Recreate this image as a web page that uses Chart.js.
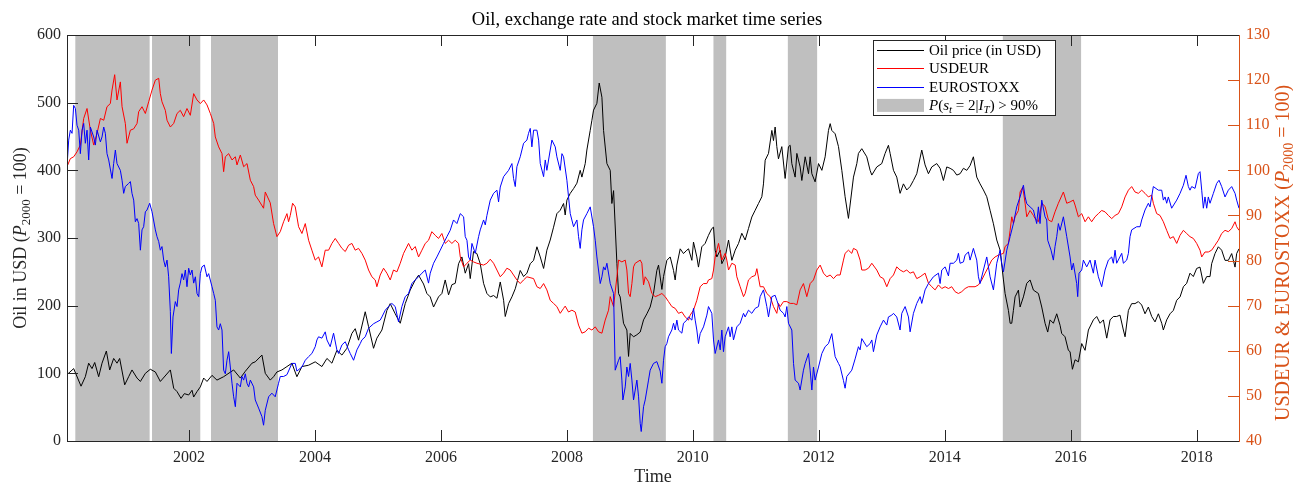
<!DOCTYPE html>
<html>
<head>
<meta charset="utf-8">
<script src="https://cdn.jsdelivr.net/npm/chart.js@4.4.1/dist/chart.umd.min.js"></script>
<style>
  html, body { margin: 0; padding: 0; background: #fff; }
</style>
</head>
<body>
<canvas id="chart" width="1293" height="484"></canvas>
<script>
// [decimal year, value]
const oilPoints = [
  [2000.063,98],[2000.169,107],[2000.286,81],[2000.354,95],[2000.407,115],[2000.46,107],[2000.503,116],[2000.566,95],[2000.619,115],[2000.688,133],[2000.741,105],[2000.804,122],[2000.857,115],[2000.899,122],[2000.979,83],[2001.042,95],[2001.095,105],[2001.175,93],[2001.228,88],[2001.307,100],[2001.386,106],[2001.466,102],[2001.545,88],[2001.704,105],[2001.757,78],[2001.81,73],[2001.873,63],[2001.926,70],[2001.995,68],[2002.048,75],[2002.074,65],[2002.127,73],[2002.18,80],[2002.233,93],[2002.286,88],[2002.365,97],[2002.444,90],[2002.55,95],[2002.709,105],[2002.815,93],[2002.894,103],[2003.0,115],
  [2003.052,117],[2003.158,127],[2003.211,100],[2003.29,90],[2003.343,95],[2003.396,102],[2003.475,105],[2003.555,110],[2003.634,115],[2003.713,95],[2003.793,110],[2003.899,112],[2004.004,117],[2004.11,110],[2004.19,122],[2004.269,115],[2004.348,134],[2004.428,127],[2004.507,137],[2004.586,159],[2004.639,166],[2004.692,149],[2004.798,191],[2004.851,169],[2004.93,137],[2004.983,152],[2005.063,164],[2005.142,193],[2005.195,203],[2005.274,188],[2005.354,174],[2005.433,203],[2005.512,223],[2005.592,238],[2005.645,245],[2005.724,232],[2005.777,218],[2005.83,213],[2005.883,198],[2005.962,213],[2006.015,218],[2006.068,238],[2006.121,216],[2006.174,231],[2006.227,233],
  [2006.28,262],[2006.333,272],[2006.386,248],[2006.439,262],[2006.465,240],[2006.518,280],[2006.571,277],[2006.624,262],[2006.677,233],[2006.73,218],[2006.783,213],[2006.836,215],[2006.889,211],[2006.942,235],[2006.995,208],[2007.021,184],[2007.074,203],[2007.127,213],[2007.18,225],[2007.259,252],[2007.312,243],[2007.365,248],[2007.418,262],[2007.471,267],[2007.524,287],[2007.577,272],[2007.63,255],[2007.682,282],[2007.735,297],[2007.788,316],[2007.841,336],[2007.894,341],[2007.947,351],[2007.973,334],[2008.0,356],[2008.053,366],[2008.106,373],[2008.159,381],[2008.211,400],[2008.238,390],[2008.291,410],[2008.317,430],[2008.37,459],[2008.397,474],[2008.423,489],[2008.476,499],[2008.513,529],[2008.556,508],[2008.582,459],[2008.635,410],[2008.688,400],[2008.714,351],[2008.741,370],[2008.794,262],[2008.82,218],[2008.846,213],[2008.899,174],[2008.952,164],[2008.979,125],[2009.005,159],[2009.058,154],[2009.111,157],[2009.164,161],[2009.217,179],[2009.27,188],
  [2009.322,198],[2009.375,218],[2009.428,252],[2009.455,260],[2009.508,224],[2009.534,243],[2009.587,267],[2009.64,272],[2009.693,252],[2009.719,238],[2009.746,260],[2009.799,284],[2009.851,277],[2009.904,282],[2009.931,284],[2009.984,267],[2010.01,294],[2010.063,272],[2010.089,257],[2010.142,287],[2010.195,292],[2010.248,304],[2010.301,314],[2010.328,316],[2010.354,282],[2010.381,272],[2010.434,282],[2010.46,262],[2010.513,272],[2010.566,297],[2010.619,267],[2010.672,282],[2010.725,292],[2010.777,307],[2010.83,297],[2010.883,314],[2010.936,331],[2010.989,341],[2011.042,351],[2011.095,361],[2011.121,380],[2011.148,415],[2011.201,425],[2011.254,459],[2011.28,444],[2011.306,464],[2011.333,435],[2011.359,417],[2011.412,435],[2011.465,388],[2011.518,435],[2011.545,437],[2011.571,410],[2011.624,390],[2011.651,425],[2011.703,405],[2011.73,385],[2011.783,420],[2011.836,395],[2011.862,420],[2011.889,395],[2011.941,383],[2011.995,410],[2012.048,400],[2012.1,420],[2012.153,459],[2012.18,469],[2012.206,459],[2012.259,454],[2012.312,435],[2012.365,400],
  [2012.417,361],[2012.47,329],[2012.55,390],[2012.603,410],[2012.629,425],[2012.682,432],[2012.761,420],[2012.814,400],[2012.841,393],[2012.92,405],[2012.999,410],[2013.052,425],[2013.105,437],[2013.132,425],[2013.185,400],[2013.237,390],[2013.29,366],[2013.343,380],[2013.396,371],[2013.449,376],[2013.502,385],[2013.555,395],[2013.634,430],[2013.687,408],[2013.74,395],[2013.793,405],[2013.872,410],[2013.925,403],[2013.978,385],[2014.031,405],[2014.084,403],[2014.137,400],[2014.19,393],[2014.243,395],[2014.296,403],[2014.349,400],[2014.401,407],[2014.454,420],[2014.507,390],[2014.56,380],[2014.613,371],[2014.666,361],[2014.719,341],[2014.772,321],[2014.825,297],[2014.878,282],[2014.931,238],[2014.957,218],[2015.01,193],[2015.037,174],[2015.063,174],[2015.089,193],[2015.116,213],[2015.169,223],[2015.195,198],[2015.248,213],[2015.301,233],[2015.354,238],[2015.407,223],
  [2015.486,218],[2015.539,198],[2015.592,174],[2015.634,161],[2015.671,179],[2015.724,174],[2015.777,188],[2015.83,171],[2015.856,159],[2015.909,154],[2015.962,134],[2015.989,132],[2016.026,106],[2016.068,120],[2016.121,117],[2016.174,144],[2016.227,134],[2016.28,164],[2016.359,179],[2016.412,184],[2016.465,174],[2016.518,179],[2016.571,152],[2016.624,179],[2016.676,184],[2016.729,184],[2016.782,186],[2016.835,164],[2016.862,154],[2016.915,193],[2016.967,203],[2017.02,203],[2017.073,206],[2017.126,201],[2017.179,188],[2017.232,198],[2017.285,184],[2017.338,176],[2017.391,188],[2017.444,174],[2017.47,164],[2017.523,179],[2017.576,188],[2017.629,193],[2017.682,208],[2017.735,213],[2017.788,228],[2017.84,233],[2017.893,248],[2017.946,243],[2017.999,255],[2018.052,257],[2018.105,233],[2018.158,243],[2018.211,243],[2018.237,262],[2018.29,277],[2018.343,287],[2018.396,282],[2018.449,267],[2018.502,267],[2018.555,277],[2018.608,257],[2018.634,277],[2018.671,284]
];

const usdeurPoints = [
  [2000.063,100.8],[2000.116,102.6],[2000.169,103],[2000.222,104.1],[2000.275,105.6],[2000.328,111.5],[2000.381,113.7],[2000.434,108.9],[2000.487,105.6],[2000.54,108.2],[2000.593,111.5],[2000.646,111.1],[2000.698,114.1],[2000.751,114.8],[2000.778,117.8],[2000.82,121.2],[2000.857,115.6],[2000.91,119.6],[2000.937,114.1],[2000.989,110.4],[2001.016,106],[2001.069,108.9],[2001.122,109.2],[2001.175,110.4],[2001.201,113],[2001.254,114.1],[2001.307,112.6],[2001.36,115.2],[2001.413,117.8],[2001.466,120],[2001.519,120.4],[2001.545,117],[2001.571,115.2],[2001.624,113.3],[2001.651,111.1],[2001.704,109.6],[2001.757,110.4],[2001.81,112.6],[2001.862,113.3],[2001.915,111.9],[2001.968,113.7],[2002.021,112.2],[2002.074,117],[2002.127,115.6],[2002.18,114.8],[2002.233,115.6],[2002.286,114.5],[2002.339,112.6],[2002.392,110.4],[2002.418,107.4],[2002.471,105.2],[2002.524,103.7],[2002.55,99.7],[2002.577,103],[2002.63,103.7],[2002.683,102.3],[2002.736,103],[2002.762,101.2],[2002.815,103.4],[2002.868,100.8],[2002.921,101.5],[2002.974,97.8],[2003.026,96.4],
  [2003.052,94.5],[2003.105,93.4],[2003.184,91.6],[2003.211,95.2],[2003.29,92.8],[2003.343,88.2],[2003.396,85.3],[2003.449,86.4],[2003.502,88.6],[2003.555,90.4],[2003.581,88.6],[2003.608,90],[2003.645,92.7],[2003.687,91.9],[2003.74,87.5],[2003.793,86],[2003.846,88.2],[2003.899,84.5],[2003.951,82.3],[2004.004,80.1],[2004.057,80.8],[2004.11,78.6],[2004.163,82.3],[2004.216,82.3],[2004.269,83.8],[2004.322,84.9],[2004.375,83.8],[2004.428,82.7],[2004.481,82],[2004.534,83.4],[2004.586,83.8],[2004.639,82.3],[2004.692,82.7],[2004.745,81.6],[2004.798,80.1],[2004.851,77.9],[2004.904,76.4],[2004.957,75.7],[2004.983,74.2],[2005.036,76.8],[2005.089,78.3],[2005.142,77.2],[2005.195,75.7],[2005.247,77.9],[2005.301,77.5],[2005.354,79.4],[2005.407,81.6],[2005.486,83.8],[2005.539,82.3],[2005.592,83.1],[2005.645,80.8],[2005.698,82.3],[2005.751,83.8],[2005.803,84.5],[2005.856,86.4],[2005.909,85.6],[2005.962,84.9],[2006.015,86],[2006.068,83.8],[2006.121,84.5],[2006.174,83.8],[2006.227,84.5],
  [2006.28,83.8],[2006.307,80.8],[2006.36,78.6],[2006.413,79.4],[2006.465,80.1],[2006.518,79.7],[2006.571,79.4],[2006.677,79],[2006.73,79.4],[2006.783,80.3],[2006.836,79.4],[2006.889,77.9],[2006.942,76.4],[2006.995,77.2],[2007.047,78.3],[2007.1,77.9],[2007.153,76.8],[2007.206,75.7],[2007.259,74.9],[2007.312,75.7],[2007.365,76.4],[2007.471,76],[2007.524,74.2],[2007.577,73.8],[2007.63,74.9],[2007.682,73.5],[2007.735,71.2],[2007.788,70.5],[2007.841,69.8],[2007.894,68.3],[2007.947,69.4],[2007.973,69.9],[2008.026,68.6],[2008.079,69],[2008.132,68.6],[2008.185,65.7],[2008.238,63.9],[2008.291,64.2],[2008.344,65],[2008.397,64.6],[2008.45,65.3],[2008.503,64.2],[2008.556,63.9],[2008.608,66.8],[2008.661,69],[2008.688,72],[2008.741,69.8],[2008.794,76.4],[2008.82,80.1],[2008.873,79.7],[2008.926,80.1],[2008.952,77.9],[2008.979,72.7],[2009.005,72],[2009.032,74.9],[2009.058,78.6],[2009.085,79.4],[2009.164,80.1],[2009.19,79.4],[2009.217,74.6],
  [2009.243,76.4],[2009.296,75.3],[2009.349,72.7],[2009.402,72],[2009.455,72.3],[2009.508,72.7],[2009.56,72],[2009.613,70.9],[2009.666,69.8],[2009.719,69.4],[2009.772,68.3],[2009.825,68.6],[2009.878,67.5],[2009.931,66.8],[2009.957,67.9],[2010.01,69],[2010.063,71.2],[2010.116,74.2],[2010.169,74.9],[2010.222,74.9],[2010.248,75.7],[2010.301,76],[2010.328,77.9],[2010.354,80.8],[2010.407,83.8],[2010.434,81.9],[2010.46,80.1],[2010.513,81.6],[2010.539,80.1],[2010.566,77.9],[2010.619,79.4],[2010.672,79],[2010.698,76.4],[2010.751,74.2],[2010.804,72],[2010.83,72.7],[2010.883,75.7],[2010.936,76.4],[2010.989,76.7],[2011.016,78.2],[2011.068,74.2],[2011.121,74.2],[2011.174,72.7],[2011.227,72],[2011.28,69.8],[2011.333,68.3],[2011.359,70.5],[2011.386,69.8],[2011.439,70.9],[2011.492,70.9],[2011.545,70.5],[2011.598,70.5],[2011.651,70.2],[2011.703,73.5],[2011.756,74.9],[2011.809,72],[2011.862,74.9],[2011.915,75.7],[2011.968,77.9],[2012.021,79],[2012.074,77.2],[2012.127,76.4],[2012.18,76.8],[2012.233,76],[2012.286,76.8],
  [2012.338,76.8],[2012.391,80.1],[2012.417,81.6],[2012.47,82.3],[2012.523,81.6],[2012.55,82.7],[2012.603,82.3],[2012.655,80.1],[2012.682,77.9],[2012.735,77.9],[2012.788,78.3],[2012.841,79.4],[2012.92,77.9],[2012.973,76.4],[2013.026,76],[2013.079,74.2],[2013.132,76],[2013.185,76.8],[2013.237,78.6],[2013.29,77.9],[2013.343,77.5],[2013.396,77.9],[2013.449,77.2],[2013.502,77.5],[2013.555,76],[2013.608,76.4],[2013.687,77.2],[2013.74,75],[2013.793,74.2],[2013.846,73.5],[2013.899,74.6],[2013.952,73.8],[2014.005,74.2],[2014.058,73.8],[2014.11,74.2],[2014.163,73.1],[2014.216,72.7],[2014.269,73.1],[2014.322,73.8],[2014.375,74.2],[2014.481,74.2],[2014.534,74.6],[2014.587,75.7],[2014.64,77.2],[2014.693,78.6],[2014.745,80.1],[2014.798,80.8],[2014.851,81.2],[2014.931,81.6],[2014.957,83.1],[2015.01,83.8],[2015.037,86.7],[2015.063,89.7],[2015.089,88.2],[2015.116,89.7],[2015.169,91.1],[2015.195,95.2],[2015.238,96.3],[2015.275,92.7],[2015.301,89.7],[2015.354,91.1],[2015.407,90],
  [2015.433,89.3],[2015.486,88.6],[2015.539,92.7],[2015.592,92],[2015.645,89],[2015.698,88.6],[2015.75,90.8],[2015.803,92.7],[2015.883,95.2],[2015.936,92.7],[2015.989,93],[2016.041,93.4],[2016.068,92.3],[2016.121,89.7],[2016.174,90.4],[2016.227,88.6],[2016.28,89.7],[2016.332,88.6],[2016.385,89.7],[2016.438,90.4],[2016.491,91.1],[2016.544,90.8],[2016.597,90],[2016.65,89.3],[2016.703,90],[2016.756,90.4],[2016.809,91.9],[2016.862,94.1],[2016.915,95.6],[2016.967,96.4],[2017.02,95.2],[2017.073,94.9],[2017.126,95.6],[2017.179,94.9],[2017.232,94.1],[2017.285,94.5],[2017.311,92.7],[2017.364,90.4],[2017.417,90],[2017.47,88.6],[2017.523,86.7],[2017.576,84.9],[2017.629,85.3],[2017.682,83.8],[2017.735,85.6],[2017.788,86.7],[2017.84,86],[2017.893,85.3],[2017.946,84.9],[2017.999,83.8],[2018.052,82.3],[2018.079,80.8],[2018.131,81.9],[2018.184,81.9],[2018.237,82.3],[2018.29,83.4],[2018.343,84.5],[2018.396,86],[2018.449,86.7],[2018.502,86.4],[2018.555,87.1],[2018.608,88.6],[2018.634,87.5],[2018.671,86.7]
];

const stoxxPoints = [
  [2000.063,100.8],[2000.09,106.7],[2000.116,108.9],[2000.143,108.2],[2000.169,114.4],[2000.196,113.7],[2000.222,110],[2000.249,108.9],[2000.275,103.7],[2000.302,108.9],[2000.328,110.4],[2000.354,106],[2000.381,108.9],[2000.407,102.3],[2000.434,109.6],[2000.487,107.4],[2000.513,105.6],[2000.54,108.9],[2000.593,106.3],[2000.619,107.4],[2000.646,109.6],[2000.672,108.2],[2000.698,103.7],[2000.725,102.3],[2000.778,98.2],[2000.804,101.5],[2000.831,104.5],[2000.857,101.5],[2000.91,100],[2000.937,97.8],[2000.963,94.9],[2000.989,96.4],[2001.042,97.1],[2001.069,97.5],[2001.095,94.9],[2001.122,93.4],[2001.148,88.6],[2001.175,89.3],[2001.201,88.2],[2001.228,82.3],[2001.254,86.8],[2001.28,87.5],[2001.307,90.8],[2001.333,91.2],[2001.376,92.7],[2001.413,90.8],[2001.466,86.8],[2001.492,85.3],[2001.519,84.2],[2001.545,82.3],[2001.571,83.1],[2001.598,80.1],[2001.624,78.6],[2001.651,80.1],[2001.677,76.4],[2001.704,68.7],[2001.72,59.4],[2001.746,67.5],[2001.783,70.9],[2001.81,69.8],[2001.836,73.5],[2001.862,75],[2001.889,77.1],[2001.915,75.7],[2001.942,77.9],[2001.968,74.2],[2001.995,78.3],[2002.021,76.8],[2002.048,77.9],[2002.074,75],[2002.101,76.4],[2002.127,72.7],[2002.154,72],[2002.18,77.1],[2002.206,78.6],[2002.243,79],[2002.286,76.4],[2002.312,77.1],[2002.365,74.2],[2002.392,72.7],[2002.418,71.2],[2002.444,65.3],[2002.471,64.6],[2002.497,66],[2002.524,64.6],[2002.55,55.7],[2002.577,54.9],[2002.603,57.9],[2002.63,59.8],[2002.656,56.4],[2002.683,52.8],[2002.709,49.8],[2002.736,47.6],[2002.762,52.8],[2002.815,52],[2002.841,54.3],[2002.868,53.5],[2002.894,54.9],[2002.921,52.8],[2002.947,52],[2002.974,53.5],[2003.026,52],
  [2003.052,49.1],[2003.105,47.3],[2003.158,45.4],[2003.184,43.5],[2003.211,46.8],[2003.264,49.8],[2003.316,50.6],[2003.369,49.8],[2003.422,52.8],[2003.449,54.3],[2003.502,54.3],[2003.555,54.7],[2003.634,57.2],[2003.687,57.2],[2003.713,55.5],[2003.793,56.4],[2003.846,57.9],[2003.899,58.7],[2003.951,59.4],[2004.004,60.9],[2004.031,62.4],[2004.057,63.1],[2004.11,62.8],[2004.163,64.2],[2004.19,62.4],[2004.242,60.9],[2004.295,63.9],[2004.348,60.2],[2004.375,59.4],[2004.428,61.3],[2004.481,62],[2004.534,60.2],[2004.56,59.4],[2004.613,57.9],[2004.666,60.2],[2004.719,61.6],[2004.745,62.4],[2004.798,63.1],[2004.851,65],[2004.931,66],[2004.983,66.4],[2005.036,66.8],[2005.063,67.5],[2005.116,69],[2005.168,69.8],[2005.221,70.5],[2005.274,69.8],[2005.327,66.4],[2005.38,69.8],[2005.433,72],[2005.486,72.7],[2005.539,74.9],[2005.592,75.7],[2005.645,76.4],[2005.698,77.2],[2005.751,77.9],[2005.803,75],[2005.83,77.2],[2005.883,79.4],[2005.936,80.8],[2005.989,82.3],[2006.041,83.8],[2006.095,85.3],[2006.147,86.7],[2006.2,89],
  [2006.254,88.2],[2006.307,90.4],[2006.36,89.7],[2006.386,85.3],[2006.413,84.5],[2006.439,80.8],[2006.465,80.1],[2006.492,83.8],[2006.545,81.6],[2006.598,85.3],[2006.624,86.8],[2006.677,89],[2006.704,87.9],[2006.73,90],[2006.783,93.4],[2006.836,94.9],[2006.889,95.6],[2006.915,93],[2006.942,96.3],[2006.995,98.6],[2007.074,100],[2007.127,101.5],[2007.153,98.2],[2007.18,96.4],[2007.206,100.8],[2007.259,103],[2007.312,106],[2007.365,106.7],[2007.391,108.2],[2007.418,109.3],[2007.444,105.2],[2007.471,108.9],[2007.524,108.9],[2007.551,106.7],[2007.577,101.5],[2007.63,98.6],[2007.656,102.3],[2007.682,100],[2007.735,104.5],[2007.762,106.7],[2007.815,105.2],[2007.841,103],[2007.894,100],[2007.921,103.7],[2007.947,103],[2008.0,97.8],[2008.026,94.1],[2008.053,90.4],[2008.106,87.5],[2008.159,89],[2008.185,85.3],[2008.211,82.7],[2008.238,86.8],[2008.264,89],[2008.317,90.4],[2008.37,91.9],[2008.423,87.5],[2008.45,84.5],[2008.476,80.8],[2008.529,74.9],[2008.556,76.4],[2008.582,78.6],[2008.608,77.9],[2008.635,79.4],[2008.688,74.9],[2008.741,72.7],[2008.767,55.7],[2008.82,57.9],[2008.846,58.7],[2008.873,53.5],[2008.889,49.1],[2008.926,52],[2008.952,56.4],[2008.979,54.3],[2009.005,57.2],[2009.032,53.5],[2009.058,49.1],[2009.111,53.5],[2009.138,49.8],[2009.164,43.9],[2009.18,42.1],[2009.217,47.6],
  [2009.243,49.1],[2009.296,53.5],[2009.322,55.7],[2009.375,57.2],[2009.428,57.6],[2009.481,55.5],[2009.508,52.8],[2009.534,57.9],[2009.56,60.9],[2009.587,61.6],[2009.613,63.1],[2009.666,64.6],[2009.693,66.1],[2009.719,64.6],[2009.746,66.8],[2009.772,64.6],[2009.825,63.9],[2009.851,66.1],[2009.904,66.8],[2009.931,67.5],[2009.984,66.8],[2010.01,69.4],[2010.037,66.8],[2010.063,64.6],[2010.089,61.6],[2010.116,63.8],[2010.169,65.3],[2010.222,67.9],[2010.248,69.8],[2010.301,68.3],[2010.328,62.4],[2010.354,59.4],[2010.407,62.4],[2010.434,60.2],[2010.46,64.6],[2010.486,59.8],[2010.513,63.1],[2010.566,65.3],[2010.592,63.1],[2010.619,65.3],[2010.645,62.4],[2010.698,65.3],[2010.751,66.1],[2010.804,68.3],[2010.83,67.5],[2010.883,69],[2010.936,68.3],[2010.989,69.4],[2011.042,69.8],[2011.068,72],[2011.121,73.5],[2011.174,69.8],[2011.201,67.5],[2011.254,72],[2011.306,72.3],[2011.333,71.2],[2011.386,69],[2011.439,68.3],[2011.465,67.5],[2011.492,69.8],[2011.518,66.1],[2011.571,64.6],[2011.598,57.2],[2011.624,53.5],[2011.677,52.8],[2011.703,51.3],[2011.756,55.7],[2011.783,57.2],[2011.836,59.4],[2011.862,55.7],[2011.889,51.3],[2011.915,56.4],[2011.941,53.5],[2011.995,56.4],[2012.048,59.4],[2012.1,60.9],[2012.153,61.6],[2012.206,63.8],[2012.259,58.7],[2012.312,57.2],
  [2012.338,56.5],[2012.391,53.4],[2012.417,51.7],[2012.444,54.3],[2012.523,55.7],[2012.576,58.2],[2012.629,60.9],[2012.655,60.2],[2012.682,62.7],[2012.761,60.9],[2012.814,61.6],[2012.841,62.4],[2012.867,59.8],[2012.92,63.5],[2012.973,65.3],[2013.026,66.8],[2013.079,65.7],[2013.105,67.5],[2013.158,67.9],[2013.185,68.3],[2013.237,67.5],[2013.29,64.6],[2013.317,68.3],[2013.37,69.8],[2013.423,67.5],[2013.449,64.2],[2013.502,68.3],[2013.555,70.5],[2013.608,72],[2013.634,70.5],[2013.687,73.5],[2013.74,74.9],[2013.819,76.4],[2013.899,77.2],[2013.925,74.9],[2013.952,77.9],[2014.005,78.6],[2014.058,76.6],[2014.084,79.4],[2014.137,79.4],[2014.19,80.1],[2014.216,81.6],[2014.243,79.4],[2014.296,79.7],[2014.322,81.2],[2014.375,81.9],[2014.401,80.1],[2014.454,82.7],[2014.507,80.1],[2014.534,76.4],[2014.56,74.9],[2014.613,77.9],[2014.666,80.8],[2014.719,76.4],[2014.772,73.5],[2014.825,79.4],[2014.878,82.3],[2014.904,79.4],[2014.931,77.5],[2014.984,82.3],[2015.037,85.3],[2015.089,88.2],[2015.142,91.9],[2015.195,94.1],[2015.248,96.7],[2015.275,94.1],[2015.301,92.6],[2015.354,91.9],[2015.407,91.2],
  [2015.433,89.7],[2015.459,88.2],[2015.486,91.9],[2015.512,88.2],[2015.539,93.4],[2015.592,89.7],[2015.618,89],[2015.634,84.5],[2015.687,82.3],[2015.724,80.1],[2015.75,83.1],[2015.777,85.3],[2015.803,88.2],[2015.83,86.7],[2015.883,89.7],[2015.936,85.3],[2015.989,80.8],[2016.015,77.9],[2016.041,79.4],[2016.094,74.9],[2016.11,72],[2016.131,77.2],[2016.174,77.9],[2016.2,80.1],[2016.253,78.6],[2016.306,80.1],[2016.359,77.2],[2016.385,80.1],[2016.438,76.4],[2016.491,74.2],[2016.544,77.9],[2016.597,80.1],[2016.65,80.8],[2016.676,79.4],[2016.703,82.3],[2016.729,79.4],[2016.809,81.6],[2016.835,79.4],[2016.888,80.1],[2016.915,81.6],[2016.941,85.3],[2016.967,86.8],[2017.047,87.5],[2017.1,87.5],[2017.126,89],[2017.179,91.2],[2017.232,92.7],[2017.258,91.9],[2017.311,96.4],[2017.391,95.6],[2017.444,95.6],[2017.47,93.4],[2017.497,94.1],[2017.523,92.7],[2017.549,94.1],[2017.602,91.6],[2017.682,93.4],[2017.735,94.9],[2017.788,96.7],[2017.83,98.9],[2017.867,96.4],[2017.893,95.6],[2017.92,96.4],[2017.973,96],[2018.026,99.3],[2018.052,99.7],[2018.079,95.6],[2018.105,91.6],[2018.131,94.1],[2018.158,91.6],[2018.184,94.1],[2018.211,92.7],[2018.264,94.9],[2018.317,97.1],[2018.354,97.8],[2018.396,96.4],[2018.449,94.1],[2018.502,95.6],[2018.555,96.4],[2018.608,94.9],[2018.634,93.4],[2018.671,91.6]
];

// periods where P(s_t = 2 | I_T) > 90%
const bandStarts = [2000.195, 2001.413, 2002.349, 2008.413, 2010.327, 2011.508, 2014.921];
const bandEnds   = [2001.375, 2002.179, 2003.413, 2009.571, 2010.529, 2011.973, 2016.164];

const yearTicks = [2002, 2004, 2006, 2008, 2010, 2012, 2014, 2016, 2018];
const timeRange = [2000.063, 2018.671];
const oilRange = [0, 600];
const indexRange = [40, 130];

const FONT = '"Liberation Serif", "Times New Roman", serif';
const AXIS = '#262626';
const ORANGE = '#D95319';

// draw text made of pieces: [text, style] with style '', 'i', 'sub', 'isub'
function richText(ctx, parts, x, y, size, color, align) {
  const fontFor = s => (s.indexOf('i') === 0 ? 'italic ' : '') +
    (s.indexOf('sub') >= 0 ? Math.round(size * 0.7) : size) + 'px ' + FONT;
  let total = 0;
  parts.forEach(([t, s]) => { ctx.font = fontFor(s); total += ctx.measureText(t).width; });
  let cx = align === 'center' ? x - total / 2 : x;
  ctx.fillStyle = color;
  ctx.textAlign = 'left';
  ctx.textBaseline = 'alphabetic';
  parts.forEach(([t, s]) => {
    ctx.font = fontFor(s);
    ctx.fillText(t, cx, y + (s.indexOf('sub') >= 0 ? size * 0.22 : 0));
    cx += ctx.measureText(t).width;
  });
}

function hline(ctx, x0, x1, y, color) {
  ctx.strokeStyle = color;
  ctx.beginPath();
  ctx.moveTo(x0, Math.round(y) + 0.5);
  ctx.lineTo(x1, Math.round(y) + 0.5);
  ctx.stroke();
}
function vline(ctx, x, y0, y1, color) {
  ctx.strokeStyle = color;
  ctx.beginPath();
  ctx.moveTo(Math.round(x) + 0.5, y0);
  ctx.lineTo(Math.round(x) + 0.5, y1);
  ctx.stroke();
}

const bandsPlugin = {
  id: 'bands',
  beforeDatasetsDraw(chart) {
    const { ctx, chartArea: a, scales: { x } } = chart;
    ctx.save();
    ctx.fillStyle = '#bfbfbf';
    bandStarts.forEach((s, i) => {
      const x0 = x.getPixelForValue(s);
      const x1 = x.getPixelForValue(bandEnds[i]);
      ctx.fillRect(x0, a.top, x1 - x0, a.bottom - a.top);
    });
    ctx.restore();
  }
};

const framePlugin = {
  id: 'frame',
  afterDatasetsDraw(chart) {
    const { ctx, chartArea: a, scales: { x, yOil, yIdx } } = chart;
    const tl = 11;
    ctx.save();
    ctx.lineWidth = 1;
    x.ticks.forEach(t => {
      const p = x.getPixelForValue(t.value);
      vline(ctx, p, a.bottom, a.bottom - tl, AXIS);
      vline(ctx, p, a.top, a.top + tl, AXIS);
    });
    yOil.ticks.forEach(t => hline(ctx, a.left, a.left + tl, yOil.getPixelForValue(t.value), AXIS));
    yIdx.ticks.forEach(t => hline(ctx, a.right - tl, a.right, yIdx.getPixelForValue(t.value), ORANGE));
    hline(ctx, a.left, a.right, a.top, AXIS);
    hline(ctx, a.left, a.right, a.bottom, AXIS);
    vline(ctx, a.left, a.top, a.bottom + 1, AXIS);
    vline(ctx, a.right, a.top, a.bottom + 1, ORANGE);
    ctx.restore();
  }
};

const textPlugin = {
  id: 'texts',
  afterDraw(chart) {
    const { ctx, chartArea: a } = chart;
    const midY = (a.top + a.bottom) / 2;
    ctx.save();
    // title
    richText(ctx, [['Oil, exchange rate and stock market time series', '']], 647, 25, 18.5, '#000', 'center');
    // x axis title
    richText(ctx, [['Time', '']], (a.left + a.right) / 2, 482, 18, AXIS, 'center');
    // left axis title
    ctx.save();
    ctx.translate(26, midY);
    ctx.rotate(-Math.PI / 2);
    richText(ctx, [['Oil in USD (', ''], ['P', 'i'], ['2000', 'sub'], [' = 100)', '']], 0, 0, 18, AXIS, 'center');
    ctx.restore();
    // right axis title (sits a bit below the axis centre in the reference)
    ctx.save();
    ctx.translate(1289, midY + 15);
    ctx.rotate(-Math.PI / 2);
    richText(ctx, [['USDEUR & EUROSTOXX (', ''], ['P', 'i'], ['2000', 'sub'], [' = 100)', '']], 0, 0, 20, ORANGE, 'center');
    ctx.restore();

    // legend
    const lx = a.left + 806, ly = a.top + 5, lw = 182, lh = 75;
    ctx.fillStyle = '#fff';
    ctx.fillRect(lx, ly, lw, lh);
    ctx.lineWidth = 1;
    ctx.strokeStyle = AXIS;
    ctx.strokeRect(Math.round(lx) + 0.5, Math.round(ly) + 0.5, lw, lh);
    const rows = [
      { c: '#000000', parts: [['Oil price (in USD)', '']] },
      { c: '#ff0000', parts: [['USDEUR', '']] },
      { c: '#0000ff', parts: [['EUROSTOXX', '']] },
      { c: null, parts: [['P', 'i'], ['(', ''], ['s', 'i'], ['t', 'isub'], [' = 2|', ''], ['I', 'i'], ['T', 'isub'], [') > 90%', '']] }
    ];
    rows.forEach((r, i) => {
      const cy = ly + 10 + i * 18.3;
      if (r.c) {
        hline(ctx, lx + 4, lx + 51, cy, r.c);
      } else {
        ctx.fillStyle = '#bfbfbf';
        ctx.fillRect(lx + 4, cy - 6, 47, 13);
      }
      richText(ctx, r.parts, lx + 56, cy + 5, 15, '#000', 'left');
    });
    ctx.restore();
  }
};

function toXY(points) {
  return points.map(p => ({ x: p[0], y: p[1] }));
}

new Chart(document.getElementById('chart'), {
  type: 'line',
  data: {
    datasets: [
      { label: 'EUROSTOXX', data: toXY(stoxxPoints), yAxisID: 'yIdx', borderColor: '#0000ff' },
      { label: 'USDEUR', data: toXY(usdeurPoints), yAxisID: 'yIdx', borderColor: '#ff0000' },
      { label: 'Oil price (in USD)', data: toXY(oilPoints), yAxisID: 'yOil', borderColor: '#000000' }
    ]
  },
  options: {
    responsive: false,
    animation: false,
    parsing: false,
    layout: { padding: { top: 35, left: 0, right: 0, bottom: 0 } },
    elements: {
      line: { borderWidth: 1, tension: 0, fill: false },
      point: { radius: 0 }
    },
    plugins: {
      legend: { display: false },
      title: { display: false },
      tooltip: { enabled: false }
    },
    scales: {
      x: {
        type: 'linear',
        min: timeRange[0],
        max: timeRange[1],
        grid: { display: false, drawTicks: false },
        border: { display: false },
        afterBuildTicks: s => { s.ticks = yearTicks.map(v => ({ value: v })); },
        afterFit: s => { s.height = 43; },
        ticks: {
          padding: 7,
          color: AXIS,
          font: { family: FONT, size: 16 },
          callback: v => String(v),
          maxRotation: 0
        }
      },
      yOil: {
        type: 'linear',
        position: 'left',
        min: oilRange[0],
        max: oilRange[1],
        grid: { display: false, drawTicks: false },
        border: { display: false },
        afterFit: s => { s.width = 67; },
        ticks: { stepSize: 100, padding: 6, color: AXIS, font: { family: FONT, size: 16 } }
      },
      yIdx: {
        type: 'linear',
        position: 'right',
        min: indexRange[0],
        max: indexRange[1],
        grid: { display: false, drawTicks: false },
        border: { display: false },
        afterFit: s => { s.width = 54; },
        ticks: { stepSize: 10, padding: 7, color: ORANGE, font: { family: FONT, size: 16 } }
      }
    }
  },
  plugins: [bandsPlugin, framePlugin, textPlugin]
});
</script>
</body>
</html>
